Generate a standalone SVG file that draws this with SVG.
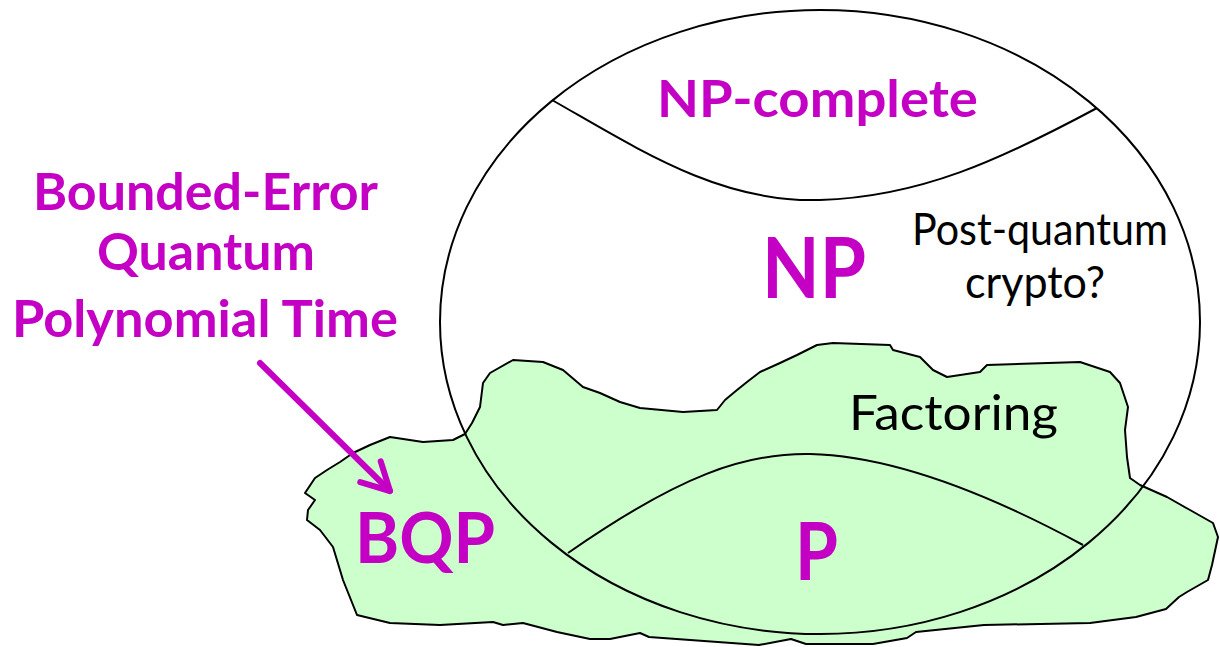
<svg xmlns="http://www.w3.org/2000/svg" width="1220" height="647" viewBox="0 0 1220 647">
<style>
.ln{fill:none;stroke:#000;stroke-width:2;stroke-linejoin:round}
.mg{font-family:Lato,"Open Sans",sans-serif;font-weight:bold;fill:#C400C4;text-anchor:middle}
.bk{font-family:Lato,"Open Sans",sans-serif;fill:#000;text-anchor:middle}
</style>
<defs>
<marker id="ah" viewBox="-32 -18 36 36" refX="0" refY="0" markerWidth="36" markerHeight="36" markerUnits="userSpaceOnUse" orient="auto" overflow="visible">
<path d="M-27.4,-14.6 L0,0 L-27.4,14.6" fill="none" stroke="#C400C4" stroke-width="6" stroke-linejoin="round" stroke-linecap="round"/>
</marker>
</defs>
<rect width="1220" height="647" fill="#fff"/>
<g id="bqp">
<path class="ln" style="fill:#CCFFCC" d="M305,493 L315,478 L327,470 L340,462 L353,453 L370,445 L390,437 L423,442 L453,440 L465,434 L472,423 L480,407 L483,383 L490,373 L513,360 L543,362 L563,370 L583,387 L600,393 L620,402 L640,408 L683,412 L717,410 L725,400 L737,390 L747,382 L760,372 L780,363 L797,355 L817,345 L833,343 L890,345 L893,350 L920,357 L933,370 L947,377 L980,372 L987,365 L1080,362 L1110,372 L1120,383 L1128,407 L1125,430 L1127,457 L1130,478 L1140,485 L1167,497 L1190,510 L1213,523 L1218,537 L1212,565 L1208,580 L1187,592 L1179,597 L1166,609 L1136,617 L1090,623 L984,625 L916,632 L907,638 L873,644 L806,644 L791,639 L759,645 L704,641 L649,637 L640,633 L610,639 L590,639 L557,632 L523,623 L503,625 L493,622 L440,625 L390,623 L357,615 L343,580 L333,547 L320,530 L307,520 L308,510 L315,500 Z"/>
</g>
<g id="np">
<ellipse class="ln" cx="820" cy="322" rx="380" ry="312"/>
</g>
<g id="npc-boundary">
<path class="ln" d="M552,100 C640,150 720,203 820,200 C920,197 1000,160 1097,108"/>
</g>
<g id="p-boundary">
<path class="ln" d="M568,553 C680,475 745,453 810,454 C900,456 1000,500 1083,545"/>
</g>
<g id="labels">
<text class="mg" x="817.5" y="117" font-size="52" textLength="321" lengthAdjust="spacingAndGlyphs">NP-complete</text>
<text class="mg" x="814" y="298" font-size="84" textLength="104" lengthAdjust="spacingAndGlyphs">NP</text>
<text class="bk" x="1040" y="245" font-size="44" textLength="256" lengthAdjust="spacingAndGlyphs">Post-quantum</text>
<text class="bk" x="1035" y="298" font-size="44" textLength="140" lengthAdjust="spacingAndGlyphs">crypto?</text>
<text class="bk" x="953.5" y="430" font-size="48" textLength="209" lengthAdjust="spacingAndGlyphs">Factoring</text>
<text class="mg" x="816.5" y="580" font-size="81" textLength="43" lengthAdjust="spacingAndGlyphs">P</text>
<text class="mg" x="425" y="563" font-size="70" textLength="140" lengthAdjust="spacingAndGlyphs">BQP</text>
<text class="mg" x="205.5" y="210" font-size="52" textLength="345" lengthAdjust="spacingAndGlyphs">Bounded-Error</text>
<text class="mg" x="206" y="270" font-size="52" textLength="218" lengthAdjust="spacingAndGlyphs">Quantum</text>
<text class="mg" x="205" y="337" font-size="52" textLength="386" lengthAdjust="spacingAndGlyphs">Polynomial Time</text>
</g>
<g id="connectors">
<path d="M260,363 L390,491" fill="none" stroke="#C400C4" stroke-width="6" stroke-linecap="round" marker-end="url(#ah)"/>
</g>
</svg>
